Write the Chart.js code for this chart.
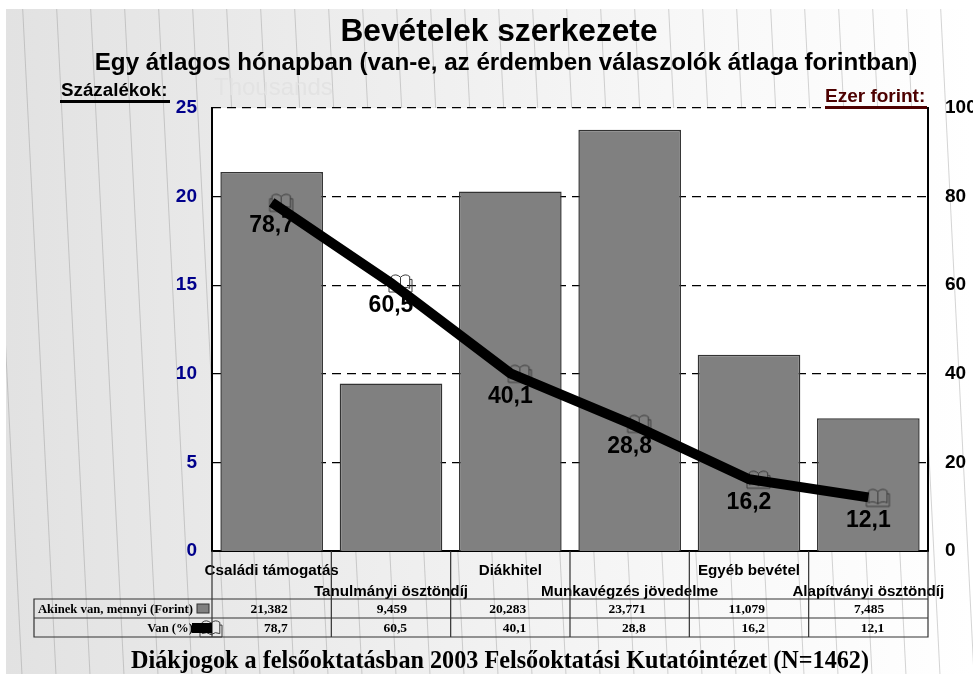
<!DOCTYPE html>
<html lang="hu">
<head>
<meta charset="utf-8">
<title>Bevételek szerkezete</title>
<style>
  html, body { margin: 0; padding: 0; background: #fff; overflow: hidden; }
  canvas { display: block; }
</style>
<script src="https://cdn.jsdelivr.net/npm/chart.js@4"></script>
</head>
<body>
<canvas id="chart" width="973" height="674"></canvas>
<script>
const categories = ["Családi támogatás", "Tanulmányi ösztöndíj", "Diákhitel", "Munkavégzés jövedelme", "Egyéb bevétel", "Alapítványi ösztöndíj"];
const amountValues = [21382, 9459, 20283, 23771, 11079, 7485]; // forint
const shareValues = [78.7, 60.5, 40.1, 28.8, 16.2, 12.1]; // percent
const rowLabels = ["Akinek van, mennyi (Forint)", "Van (%)"];

const SANS = '"Liberation Sans", Arial, sans-serif';
const SERIF = '"Liberation Serif", "Times New Roman", serif';

const comma = v => v.toFixed(1).replace(".", ",");

// Little open book used as the marker of the line
function drawBook(ctx, x, y, w, h) {
    const mid = x + w / 2;
    ctx.save();
    ctx.strokeStyle = "#3a3a3a";
    ctx.lineWidth = 1;
    ctx.beginPath();
    ctx.moveTo(mid, y + h * 0.18);
    ctx.quadraticCurveTo(mid - w * 0.2, y - h * 0.06, x + w * 0.1, y + h * 0.14);
    ctx.lineTo(x + w * 0.1, y + h * 0.8);
    ctx.quadraticCurveTo(mid - w * 0.2, y + h * 0.66, mid, y + h * 0.86);
    ctx.quadraticCurveTo(mid + w * 0.2, y + h * 0.66, x + w * 0.9, y + h * 0.8);
    ctx.lineTo(x + w * 0.9, y + h * 0.14);
    ctx.quadraticCurveTo(mid + w * 0.2, y - h * 0.06, mid, y + h * 0.18);
    ctx.lineTo(mid, y + h * 0.86);
    ctx.moveTo(x + w * 0.1, y + h * 0.3);
    ctx.lineTo(x, y + h * 0.3);
    ctx.lineTo(x, y + h);
    ctx.lineTo(x + w, y + h);
    ctx.lineTo(x + w, y + h * 0.3);
    ctx.lineTo(x + w * 0.9, y + h * 0.3);
    ctx.stroke();
    ctx.restore();
}

// The marker canvas is centered on the point, the book sits right of center
const bookMarker = document.createElement("canvas");
bookMarker.width = 62;
bookMarker.height = 24;
drawBook(bookMarker.getContext("2d"), 31 - 2, 3, 23, 18);

function text(ctx, str, x, y, font, color, align) {
    ctx.font = font;
    ctx.fillStyle = color;
    ctx.textAlign = align || "left";
    ctx.textBaseline = "middle";
    ctx.fillText(str, x, y);
}

// Page background: grey fade, thin slanted lines, white plot
const backgroundPlugin = {
    id: "background",
    beforeDraw(chart) {
        const { ctx, chartArea } = chart;
        const grad = ctx.createLinearGradient(6, 0, 973, 0);
        grad.addColorStop(0, "#e2e2e2");
        grad.addColorStop(0.75, "#f9f9f9");
        grad.addColorStop(1, "#ffffff");
        ctx.save();
        ctx.fillStyle = grad;
        ctx.fillRect(6, 9, 967, 665);

        ctx.beginPath();
        ctx.rect(6, 9, 967, 665);
        ctx.clip();
        ctx.strokeStyle = "rgba(130,130,130,0.38)";
        ctx.lineWidth = 0.9;
        for (let k = -1; k < 30; k++) {
            const x0 = 22.7 + 34 * k;
            ctx.beginPath();
            ctx.moveTo(x0, 9);
            ctx.lineTo(x0 + 0.05 * 665, 674);
            ctx.stroke();
        }
        ctx.restore();

        ctx.fillStyle = "#ffffff";
        ctx.fillRect(chartArea.left, chartArea.top, chartArea.width, chartArea.height);
    }
};

// Value labels under the points of the line
const valueLabelPlugin = {
    id: "valueLabels",
    afterDatasetsDraw(chart) {
        const { ctx } = chart;
        const meta = chart.getDatasetMeta(2);
        meta.data.forEach((pt, i) => {
            text(ctx, comma(shareValues[i]), pt.x, pt.y + 23, "bold 23px " + SANS, "#000000", "center");
        });
    }
};

// Titles, axis captions and the data table below the plot
const textAndTablePlugin = {
    id: "textAndTable",
    afterDraw(chart) {
        const { ctx, chartArea, scales } = chart;
        ctx.save();

        text(ctx, "Thousands", 214, 88, "24px " + SANS, "#e3e3e3");
        text(ctx, "Bevételek szerkezete", 499, 32, "bold 31.7px " + SANS, "#000000", "center");
        text(ctx, "Egy átlagos hónapban (van-e, az érdemben válaszolók átlaga forintban)", 506, 63, "bold 24.2px " + SANS, "#000000", "center");

        text(ctx, "Százalékok:", 61, 91, "bold 18.8px " + SANS, "#000000");
        ctx.fillStyle = "#000000";
        ctx.fillRect(60, 100, 110, 3);
        text(ctx, "Ezer forint:", 825, 97, "bold 19px " + SANS, "#4d0000");
        ctx.fillStyle = "#4d0000";
        ctx.fillRect(825, 106, 102, 3);

        // table frame
        const tableLeft = 34, tableTop = 599, rowLine = 618, tableBottom = 637;
        ctx.strokeStyle = "#333333";
        ctx.lineWidth = 1.2;
        ctx.beginPath();
        ctx.rect(tableLeft, tableTop, chartArea.right - tableLeft, tableBottom - tableTop);
        ctx.moveTo(tableLeft, rowLine);
        ctx.lineTo(chartArea.right, rowLine);
        const half = (scales.x.getPixelForValue(1) - scales.x.getPixelForValue(0)) / 2;
        for (let i = 0; i < categories.length; i++) {
            const edge = scales.x.getPixelForValue(i) - half;
            ctx.moveTo(edge, chartArea.bottom);
            ctx.lineTo(edge, tableBottom);
        }
        ctx.moveTo(chartArea.right, chartArea.bottom);
        ctx.lineTo(chartArea.right, tableBottom);
        ctx.stroke();

        // table cells
        const labelFont = "bold 12.7px " + SERIF;
        const cellFont = "bold 13.5px " + SERIF;
        text(ctx, rowLabels[0], 193, 610, labelFont, "#000000", "right");
        text(ctx, rowLabels[1], 193, 629, labelFont, "#000000", "right");
        categories.forEach((c, i) => {
            const x = scales.x.getPixelForValue(i) + 16;
            text(ctx, amountValues[i].toLocaleString("en-US"), x, 610, cellFont, "#000000", "right");
            text(ctx, comma(shareValues[i]), x, 629, cellFont, "#000000", "right");
        });

        // table legend keys
        ctx.fillStyle = "#808080";
        ctx.strokeStyle = "#333333";
        ctx.lineWidth = 1;
        ctx.fillRect(197, 604, 12, 9);
        ctx.strokeRect(197, 604, 12, 9);
        drawBook(ctx, 200, 620, 22, 17);
        ctx.fillStyle = "#000000";
        ctx.fillRect(192, 623, 20, 10);

        text(ctx, "Diákjogok a felsőoktatásban 2003 Felsőoktatási Kutatóintézet (N=1462)", 500, 662, "bold 24.2px " + SERIF, "#000000", "center");
        ctx.restore();
    }
};

new Chart(document.getElementById("chart"), {
    data: {
        // every second label goes on the lower line
        labels: categories.map((c, i) => (i % 2 === 0 ? [c, ""] : ["", c])),
        datasets: [
            {
                type: "bar",
                label: rowLabels[0],
                data: amountValues,
                yAxisID: "y",
                backgroundColor: "#808080",
                borderColor: "#333333",
                borderWidth: 1.5,
                categoryPercentage: 1,
                barPercentage: 0.86,
                order: 3
            },
            {
                // book markers, under the thick line
                type: "line",
                label: "markers",
                data: shareValues,
                yAxisID: "y2",
                showLine: false,
                pointStyle: bookMarker,
                order: 2
            },
            {
                type: "line",
                label: rowLabels[1],
                data: shareValues,
                yAxisID: "y2",
                borderColor: "#000000",
                borderWidth: 10,
                tension: 0,
                pointRadius: 0,
                order: 1
            }
        ]
    },
    options: {
        responsive: false,
        animation: false,
        layout: { padding: { top: 108, left: 0, right: 0, bottom: 0 } },
        plugins: {
            legend: { display: false },
            tooltip: { enabled: false }
        },
        scales: {
            x: {
                offset: true,
                grid: { display: false },
                border: { color: "#000000", width: 2 },
                afterFit(scale) { scale.height = 123; },
                ticks: {
                    autoSkip: false,
                    maxRotation: 0,
                    minRotation: 0,
                    padding: 1,
                    color: "#000000",
                    font: { family: SANS, size: 15.2, weight: "bold", lineHeight: 1.38 }
                }
            },
            y: {
                position: "left",
                min: 0,
                max: 25000,
                afterFit(scale) { scale.width = 212; },
                grid: { display: false, drawTicks: false },
                border: { color: "#000000", width: 2 },
                ticks: {
                    stepSize: 5000,
                    padding: 15,
                    color: "#00008b",
                    font: { family: SANS, size: 19, weight: "bold" },
                    callback: v => v / 1000
                }
            },
            y2: {
                position: "right",
                min: 0,
                max: 100,
                afterFit(scale) { scale.width = 45; },
                grid: { color: "#000000", lineWidth: 1.2, drawTicks: false },
                border: { color: "#000000", width: 2, dash: [9, 6] },
                ticks: {
                    stepSize: 20,
                    padding: 17,
                    color: "#000000",
                    font: { family: SANS, size: 19, weight: "bold" }
                }
            }
        }
    },
    plugins: [backgroundPlugin, valueLabelPlugin, textAndTablePlugin]
});
</script>
</body>
</html>
